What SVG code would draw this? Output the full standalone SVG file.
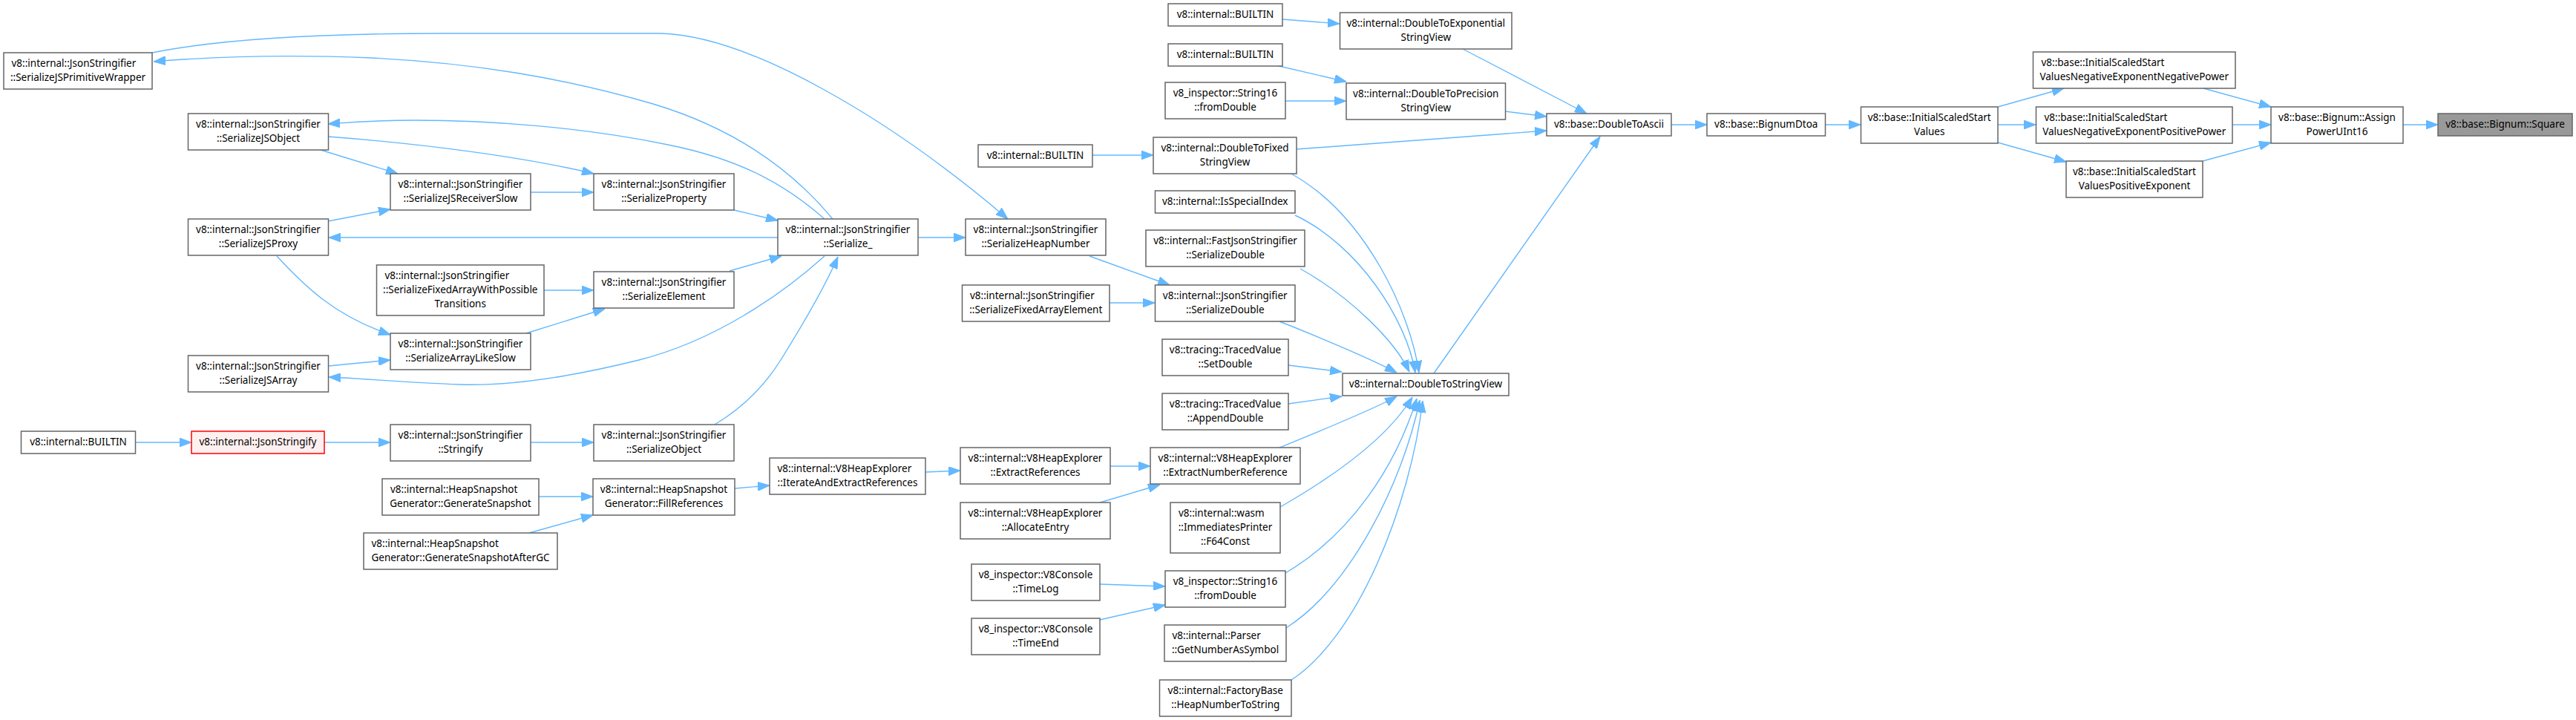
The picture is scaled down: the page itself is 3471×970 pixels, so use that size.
<svg xmlns="http://www.w3.org/2000/svg" width="3471" height="970" viewBox="0 0 3471 970">
<style>
.n rect{fill:#ffffff;stroke:#666666;stroke-width:1.5}
.n.focus rect{fill:#999999;stroke:#666666}
.n.red rect{fill:#fff0f0;stroke:#ff0000}
.n text{font-family:"Noto Sans","DejaVu Sans",sans-serif;font-size:13.5px;fill:#000000}
.c{text-anchor:middle}
.l{text-anchor:start}
#edges path{fill:none;stroke:#63b8ff;stroke-width:1.4;marker-end:url(#ah)}
</style>
<defs>
<marker id="ah" markerUnits="userSpaceOnUse" markerWidth="16" markerHeight="12" viewBox="0 0 15 11" refX="15" refY="5.5" orient="auto">
<path d="M0,0 L15,5.5 L0,11 z" fill="#63b8ff" stroke="#63b8ff" stroke-width="1"/>
</marker>
</defs>
<rect width="3471" height="970" fill="#ffffff"/>
<g id="edges">
<path d="M3238,168 L3285,168"/>
<path d="M2969,119 L3060,144"/>
<path d="M3008,168 L3060,168"/>
<path d="M2968,217 L3060,192"/>
<path d="M2692,144 L2781,119"/>
<path d="M2692,168 L2743,168"/>
<path d="M2692,192 L2784,218"/>
<path d="M2460,168 L2507,168"/>
<path d="M2252,168 L2300,168"/>
<path d="M1971,66 L2138,153"/>
<path d="M2028,150 L2084,157"/>
<path d="M1747,201 L2084,176"/>
<path d="M1932,503 L2156,184"/>
<path d="M1728,26 L1805,32"/>
<path d="M1719,88 L1814,110"/>
<path d="M1732,136 L1814,136"/>
<path d="M1472,209 L1554,209"/>
<path d="M1740,234 C1840,290 1900,420 1912,502"/>
<path d="M1745,290 C1830,330 1895,430 1907,502"/>
<path d="M1752,362 C1820,400 1880,460 1899,501"/>
<path d="M1724,433 C1780,455 1850,485 1882,502"/>
<path d="M1736,492 L1808,501"/>
<path d="M1736,544 L1808,534"/>
<path d="M1724,603 C1780,580 1850,552 1882,534"/>
<path d="M1725,683 C1800,640 1870,590 1903,535"/>
<path d="M1732,772 C1820,720 1880,630 1909,537"/>
<path d="M1733,846 C1820,790 1890,650 1913,539"/>
<path d="M1737,918 C1830,860 1900,680 1917,540"/>
<path d="M1468,345 L1576,384"/>
<path d="M1495,408 L1556,408"/>
<path d="M1237,320 L1301,320"/>
<path d="M205,71 C300,52 450,45 600,45 L890,45 C1010,48 1200,160 1358,295"/>
<path d="M1122,295 C1060,220 980,170 880,140 C760,105 640,85 500,78 C380,73 290,76 207,83"/>
<path d="M1111,295 C1060,250 1000,215 900,195 C780,170 650,162 560,162 C500,162 470,165 442,167"/>
<path d="M442,184 C560,193 700,210 800,234"/>
<path d="M432,202 L536,234"/>
<path d="M715,259 L800,259"/>
<path d="M989,283 L1048,297"/>
<path d="M1048,320 L443,320"/>
<path d="M442,298 L526,282"/>
<path d="M373,345 C410,385 450,425 526,451"/>
<path d="M983,365 L1053,345"/>
<path d="M733,391 L800,391"/>
<path d="M709,449 L815,416"/>
<path d="M1111,345 C1050,400 960,460 861,485 C760,510 680,520 620,518 C540,515 490,510 443,508"/>
<path d="M443,493 L526,485"/>
<path d="M182,596 L258,596"/>
<path d="M437,596 L526,596"/>
<path d="M715,596 L800,596"/>
<path d="M963,572 C1000,550 1030,520 1052,485 C1080,440 1110,390 1129,346"/>
<path d="M726,669 L799,669"/>
<path d="M713,718 L799,694"/>
<path d="M990,658 L1037,654"/>
<path d="M1247,636 L1294,634"/>
<path d="M1496,628 L1550,628"/>
<path d="M1482,677 L1563,653"/>
<path d="M1482,787 L1570,790"/>
<path d="M1482,835 L1570,815"/>
</g>
<g id="n_square" class="n focus"><rect x="3285" y="153" width="181" height="30"/><text class="c" x="3375.5" y="172">v8::base::Bignum::Square</text></g>
<g id="n_assign" class="n"><rect x="3060" y="144" width="178" height="49"/><text class="c" x="3149" y="162.5">v8::base::Bignum::Assign</text><text class="c" x="3149" y="181.5">PowerUInt16</text></g>
<g id="n_nnp" class="n"><rect x="2739.5" y="70" width="272.5" height="49"/><text class="l" x="2750.5" y="88.5">v8::base::InitialScaledStart</text><text class="c" x="2875.75" y="107.5">ValuesNegativeExponentNegativePower</text></g>
<g id="n_nep" class="n"><rect x="2743.5" y="144" width="264.5" height="49"/><text class="l" x="2754.5" y="162.5">v8::base::InitialScaledStart</text><text class="c" x="2875.75" y="181.5">ValuesNegativeExponentPositivePower</text></g>
<g id="n_pe" class="n"><rect x="2784" y="217" width="184" height="49"/><text class="c" x="2876" y="235.5">v8::base::InitialScaledStart</text><text class="c" x="2876" y="254.5">ValuesPositiveExponent</text></g>
<g id="n_issv" class="n"><rect x="2507.5" y="144" width="184.5" height="49"/><text class="c" x="2599.75" y="162.5">v8::base::InitialScaledStart</text><text class="c" x="2599.75" y="181.5">Values</text></g>
<g id="n_bignumdtoa" class="n"><rect x="2300" y="153" width="159.5" height="30"/><text class="c" x="2379.75" y="172">v8::base::BignumDtoa</text></g>
<g id="n_dtoa" class="n"><rect x="2084" y="153" width="168" height="30"/><text class="c" x="2168" y="172">v8::base::DoubleToAscii</text></g>
<g id="n_dtexp" class="n"><rect x="1805.5" y="17" width="231.5" height="49"/><text class="c" x="1921.25" y="35.5">v8::internal::DoubleToExponential</text><text class="c" x="1921.25" y="54.5">StringView</text></g>
<g id="n_dtprec" class="n"><rect x="1814" y="112" width="214.5" height="49"/><text class="c" x="1921.25" y="130.5">v8::internal::DoubleToPrecision</text><text class="c" x="1921.25" y="149.5">StringView</text></g>
<g id="n_dtsv" class="n"><rect x="1809" y="503" width="224" height="30"/><text class="c" x="1921" y="522">v8::internal::DoubleToStringView</text></g>
<g id="n_builtin1" class="n"><rect x="1574" y="5" width="154" height="30"/><text class="c" x="1651" y="24">v8::internal::BUILTIN</text></g>
<g id="n_builtin2" class="n"><rect x="1574" y="59" width="154" height="30"/><text class="c" x="1651" y="78">v8::internal::BUILTIN</text></g>
<g id="n_s16fd1" class="n"><rect x="1570" y="111" width="162" height="49"/><text class="c" x="1651" y="129.5">v8_inspector::String16</text><text class="c" x="1651" y="148.5">::fromDouble</text></g>
<g id="n_dtfixed" class="n"><rect x="1554" y="185" width="193" height="49"/><text class="c" x="1650.5" y="203.5">v8::internal::DoubleToFixed</text><text class="c" x="1650.5" y="222.5">StringView</text></g>
<g id="n_isspecial" class="n"><rect x="1556.5" y="257" width="188.5" height="30"/><text class="c" x="1650.75" y="276">v8::internal::IsSpecialIndex</text></g>
<g id="n_fastsd" class="n"><rect x="1544" y="310" width="214" height="49"/><text class="c" x="1651" y="328.5">v8::internal::FastJsonStringifier</text><text class="c" x="1651" y="347.5">::SerializeDouble</text></g>
<g id="n_jssd" class="n"><rect x="1556.5" y="384" width="188.5" height="49"/><text class="c" x="1650.75" y="402.5">v8::internal::JsonStringifier</text><text class="c" x="1650.75" y="421.5">::SerializeDouble</text></g>
<g id="n_setdouble" class="n"><rect x="1566" y="457" width="170" height="49"/><text class="c" x="1651" y="475.5">v8::tracing::TracedValue</text><text class="c" x="1651" y="494.5">::SetDouble</text></g>
<g id="n_appenddouble" class="n"><rect x="1566" y="530" width="170" height="49"/><text class="c" x="1651" y="548.5">v8::tracing::TracedValue</text><text class="c" x="1651" y="567.5">::AppendDouble</text></g>
<g id="n_extractnum" class="n"><rect x="1550" y="603" width="202" height="49"/><text class="c" x="1651" y="621.5">v8::internal::V8HeapExplorer</text><text class="c" x="1651" y="640.5">::ExtractNumberReference</text></g>
<g id="n_f64" class="n"><rect x="1577" y="677" width="148" height="68"/><text class="l" x="1588" y="695.5">v8::internal::wasm</text><text class="c" x="1651" y="714.5">::ImmediatesPrinter</text><text class="c" x="1651" y="733.5">::F64Const</text></g>
<g id="n_s16fd2" class="n"><rect x="1570" y="769" width="162" height="49"/><text class="c" x="1651" y="787.5">v8_inspector::String16</text><text class="c" x="1651" y="806.5">::fromDouble</text></g>
<g id="n_parser" class="n"><rect x="1569" y="842" width="164" height="49"/><text class="l" x="1579.5" y="860.5">v8::internal::Parser</text><text class="c" x="1651" y="879.5">::GetNumberAsSymbol</text></g>
<g id="n_factory" class="n"><rect x="1562.5" y="916" width="177.5" height="49"/><text class="c" x="1651.25" y="934.5">v8::internal::FactoryBase</text><text class="c" x="1651.25" y="953.5">::HeapNumberToString</text></g>
<g id="n_builtin3" class="n"><rect x="1318" y="195" width="154" height="30"/><text class="c" x="1395" y="214">v8::internal::BUILTIN</text></g>
<g id="n_heapnum" class="n"><rect x="1301" y="295" width="189" height="49"/><text class="c" x="1395.5" y="313.5">v8::internal::JsonStringifier</text><text class="c" x="1395.5" y="332.5">::SerializeHeapNumber</text></g>
<g id="n_fixedelem" class="n"><rect x="1296.5" y="384" width="198.5" height="49"/><text class="l" x="1307" y="402.5">v8::internal::JsonStringifier</text><text class="c" x="1395.75" y="421.5">::SerializeFixedArrayElement</text></g>
<g id="n_extractref" class="n"><rect x="1294" y="603" width="202" height="49"/><text class="c" x="1395" y="621.5">v8::internal::V8HeapExplorer</text><text class="c" x="1395" y="640.5">::ExtractReferences</text></g>
<g id="n_alloc" class="n"><rect x="1294" y="677" width="202" height="49"/><text class="c" x="1395" y="695.5">v8::internal::V8HeapExplorer</text><text class="c" x="1395" y="714.5">::AllocateEntry</text></g>
<g id="n_timelog" class="n"><rect x="1309" y="760" width="173" height="49"/><text class="c" x="1395.5" y="778.5">v8_inspector::V8Console</text><text class="c" x="1395.5" y="797.5">::TimeLog</text></g>
<g id="n_timeend" class="n"><rect x="1309" y="833" width="173" height="49"/><text class="c" x="1395.5" y="851.5">v8_inspector::V8Console</text><text class="c" x="1395.5" y="870.5">::TimeEnd</text></g>
<g id="n_serialize" class="n"><rect x="1048" y="295" width="189" height="49"/><text class="c" x="1142.5" y="313.5">v8::internal::JsonStringifier</text><text class="c" x="1142.5" y="332.5">::Serialize_</text></g>
<g id="n_iterate" class="n"><rect x="1037" y="617" width="210" height="49"/><text class="l" x="1047.5" y="635.5">v8::internal::V8HeapExplorer</text><text class="c" x="1142" y="654.5">::IterateAndExtractReferences</text></g>
<g id="n_prop" class="n"><rect x="800" y="234" width="189" height="49"/><text class="c" x="894.5" y="252.5">v8::internal::JsonStringifier</text><text class="c" x="894.5" y="271.5">::SerializeProperty</text></g>
<g id="n_elem" class="n"><rect x="800" y="366" width="189" height="49"/><text class="c" x="894.5" y="384.5">v8::internal::JsonStringifier</text><text class="c" x="894.5" y="403.5">::SerializeElement</text></g>
<g id="n_sobj" class="n"><rect x="800" y="572" width="189" height="49"/><text class="c" x="894.5" y="590.5">v8::internal::JsonStringifier</text><text class="c" x="894.5" y="609.5">::SerializeObject</text></g>
<g id="n_fill" class="n"><rect x="799" y="645" width="191" height="49"/><text class="c" x="894.5" y="663.5">v8::internal::HeapSnapshot</text><text class="c" x="894.5" y="682.5">Generator::FillReferences</text></g>
<g id="n_recv" class="n"><rect x="526" y="234" width="189" height="49"/><text class="c" x="620.5" y="252.5">v8::internal::JsonStringifier</text><text class="c" x="620.5" y="271.5">::SerializeJSReceiverSlow</text></g>
<g id="n_fawpt" class="n"><rect x="507.5" y="357" width="225.5" height="68"/><text class="l" x="518.5" y="375.5">v8::internal::JsonStringifier</text><text class="c" x="620.25" y="394.5">::SerializeFixedArrayWithPossible</text><text class="c" x="620.25" y="413.5">Transitions</text></g>
<g id="n_als" class="n"><rect x="526" y="449" width="189" height="49"/><text class="c" x="620.5" y="467.5">v8::internal::JsonStringifier</text><text class="c" x="620.5" y="486.5">::SerializeArrayLikeSlow</text></g>
<g id="n_stringify" class="n"><rect x="526" y="572" width="189" height="49"/><text class="c" x="620.5" y="590.5">v8::internal::JsonStringifier</text><text class="c" x="620.5" y="609.5">::Stringify</text></g>
<g id="n_gensnap" class="n"><rect x="515" y="645" width="211" height="49"/><text class="l" x="526" y="663.5">v8::internal::HeapSnapshot</text><text class="c" x="620.5" y="682.5">Generator::GenerateSnapshot</text></g>
<g id="n_gensnapgc" class="n"><rect x="490" y="718" width="261" height="49"/><text class="l" x="500.5" y="736.5">v8::internal::HeapSnapshot</text><text class="c" x="620.5" y="755.5">Generator::GenerateSnapshotAfterGC</text></g>
<g id="n_jsobj" class="n"><rect x="253.5" y="153" width="189" height="49"/><text class="c" x="348" y="171.5">v8::internal::JsonStringifier</text><text class="c" x="348" y="190.5">::SerializeJSObject</text></g>
<g id="n_jsproxy" class="n"><rect x="253.5" y="295" width="189" height="49"/><text class="c" x="348" y="313.5">v8::internal::JsonStringifier</text><text class="c" x="348" y="332.5">::SerializeJSProxy</text></g>
<g id="n_jsarray" class="n"><rect x="253.5" y="479" width="189" height="49"/><text class="c" x="348" y="497.5">v8::internal::JsonStringifier</text><text class="c" x="348" y="516.5">::SerializeJSArray</text></g>
<g id="n_jsonstringify" class="n red"><rect x="258" y="581" width="179" height="30"/><text class="c" x="347.5" y="600">v8::internal::JsonStringify</text></g>
<g id="n_jspw" class="n"><rect x="5" y="71" width="200" height="49"/><text class="l" x="15.5" y="89.5">v8::internal::JsonStringifier</text><text class="c" x="105" y="108.5">::SerializeJSPrimitiveWrapper</text></g>
<g id="n_builtin0" class="n"><rect x="28.5" y="581" width="154" height="30"/><text class="c" x="105.5" y="600">v8::internal::BUILTIN</text></g>
</svg>
